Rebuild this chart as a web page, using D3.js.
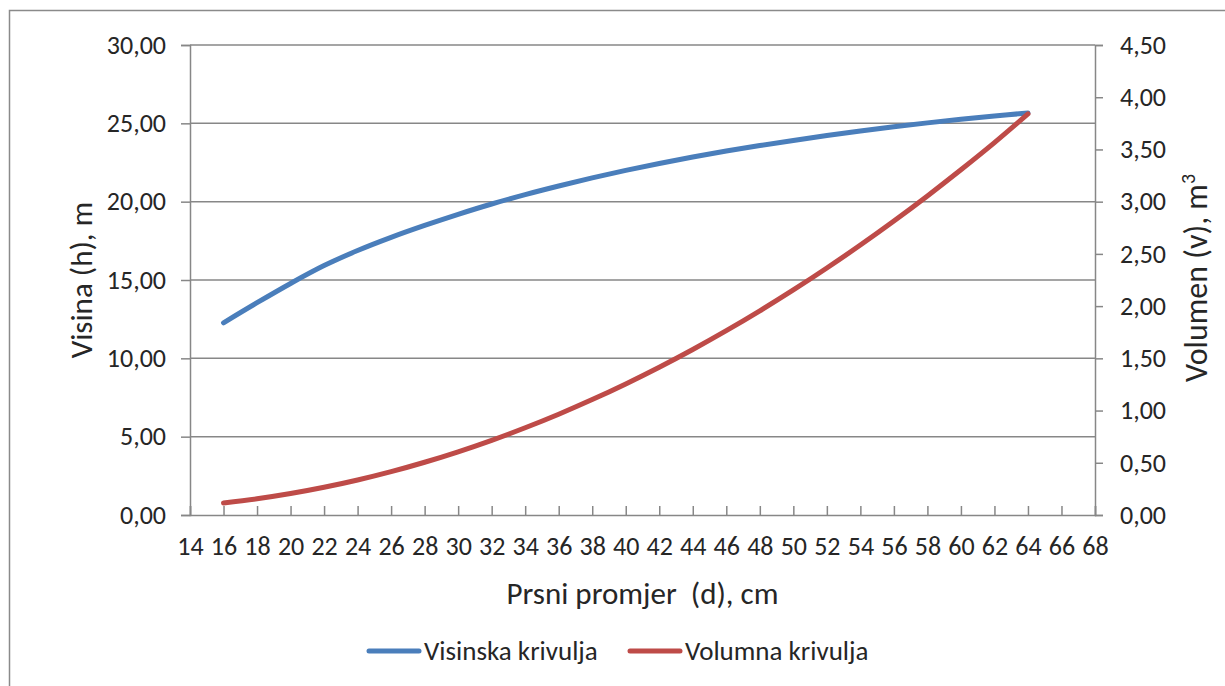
<!DOCTYPE html>
<html>
<head>
<meta charset="utf-8">
<script src="https://cdn.jsdelivr.net/npm/d3@7"></script>
<style>
  body { margin: 0; background: #fff; }
  svg text { font-family: Carlito, Calibri, Lato, sans-serif; fill: #262626; }
</style>
</head>
<body>
<div id="graph"></div>
<script>
// diameters (cm)
var diameters = [16, 18, 20, 22, 24, 26, 28, 30, 32, 34, 36, 38, 40, 42, 44, 46, 48, 50, 52, 54, 56, 58, 60, 62, 64];
// height curve (m)
var heights = [12.27, 13.55, 14.78, 15.92, 16.88, 17.72, 18.48, 19.19, 19.85, 20.45, 21.0, 21.52, 22.0, 22.44, 22.85, 23.23, 23.58, 23.91, 24.22, 24.51, 24.78, 25.03, 25.26, 25.47, 25.66];
// volume curve (m3)
var volumes = [0.115, 0.155, 0.205, 0.265, 0.335, 0.415, 0.505, 0.605, 0.715, 0.835, 0.965, 1.105, 1.255, 1.415, 1.585, 1.765, 1.955, 2.155, 2.365, 2.585, 2.815, 3.055, 3.305, 3.565, 3.84];

var xTicks = d3.range(14, 69, 2);
var leftTicks = [0, 5, 10, 15, 20, 25, 30];
var rightTicks = [0, 0.5, 1, 1.5, 2, 2.5, 3, 3.5, 4, 4.5];
var seriesNames = ["Visinska krivulja", "Volumna krivulja"];
var colors = ["#4a7ebb", "#be4b48"];

var width = 1225, height = 686;
var plotLeft = 190, plotRight = 1095, plotTop = 45, plotBottom = 515;

// comma as decimal separator
var locale = d3.formatLocale({ decimal: ",", thousands: ".", grouping: [3], currency: ["", ""] });
var fmt = locale.format(".2f");

var svg = d3.select("#graph")
  .append("svg")
  .attr("width", width)
  .attr("height", height);

// outer chart border
svg.append("rect")
  .attr("x", 9.5).attr("y", 10.5)
  .attr("width", 1240).attr("height", 700)
  .attr("fill", "none")
  .attr("stroke", "#8a8a8a")
  .attr("stroke-width", 1.5);

var x = d3.scaleLinear().domain([14, 68]).range([plotLeft, plotRight]);
var yL = d3.scaleLinear().domain([0, 30]).range([plotBottom, plotTop]);
var yR = d3.scaleLinear().domain([0, 4.5]).range([plotBottom, plotTop]);

var gridColor = "#878787";

// horizontal gridlines from the left axis
svg.append("g")
  .selectAll("line")
  .data(leftTicks.filter(function(d) { return d > 0; }))
  .enter()
  .append("line")
  .attr("x1", plotLeft).attr("x2", plotRight)
  .attr("y1", function(d) { return yL(d); })
  .attr("y2", function(d) { return yL(d); })
  .attr("stroke", gridColor)
  .attr("stroke-width", 1.5);

// left axis
var axL = svg.append("g")
  .attr("transform", "translate(" + plotLeft + ",0)")
  .call(d3.axisLeft(yL).tickValues(leftTicks).tickFormat(fmt).tickSize(9).tickPadding(15));

// right axis
var axR = svg.append("g")
  .attr("transform", "translate(" + plotRight + ",0)")
  .call(d3.axisRight(yR).tickValues(rightTicks).tickFormat(fmt).tickSize(8).tickPadding(17));

// bottom axis, ticks pointing inside
var axB = svg.append("g")
  .attr("transform", "translate(0," + plotBottom + ")")
  .call(d3.axisBottom(x).tickValues(xTicks).tickSize(-9).tickPadding(22));

[axL, axR, axB].forEach(function(ax) {
  ax.select(".domain").attr("stroke", gridColor).attr("stroke-width", 1.5);
  ax.selectAll(".tick line").attr("stroke", gridColor).attr("stroke-width", 1.5);
  ax.selectAll(".tick text")
    .style("font-size", "26px")
    .attr("fill", "#262626");
});
axB.selectAll(".tick text").attr("dy", "0.71em");

// smoothed lines like excel
var lineH = d3.line()
  .x(function(d, i) { return x(diameters[i]); })
  .y(function(d) { return yL(d); })
  .curve(d3.curveCatmullRom.alpha(0.5));
var lineV = d3.line()
  .x(function(d, i) { return x(diameters[i]); })
  .y(function(d) { return yR(d); })
  .curve(d3.curveCatmullRom.alpha(0.5));

svg.append("path")
  .datum(heights)
  .attr("d", lineH)
  .attr("fill", "none")
  .attr("stroke", colors[0])
  .attr("stroke-width", 5)
  .attr("stroke-linecap", "round");

svg.append("path")
  .datum(volumes)
  .attr("d", lineV)
  .attr("fill", "none")
  .attr("stroke", colors[1])
  .attr("stroke-width", 5)
  .attr("stroke-linecap", "round");

// axis titles
svg.append("text")
  .attr("transform", "translate(92," + (plotTop + plotBottom) / 2 + ") rotate(-90)")
  .attr("text-anchor", "middle")
  .style("font-size", "31px")
  .text("Visina (h), m");

var rt = svg.append("text")
  .attr("transform", "translate(1207," + ((plotTop + plotBottom) / 2 - 2) + ") rotate(-90)")
  .attr("text-anchor", "middle")
  .style("font-size", "32px");
rt.append("tspan").text("Volumen (v), m");
rt.append("tspan").attr("dy", -12).style("font-size", "20px").text("3");

svg.append("text")
  .attr("x", (plotLeft + plotRight) / 2)
  .attr("y", 604)
  .attr("text-anchor", "middle")
  .style("font-size", "31px")
  .style("white-space", "pre")
  .attr("xml:space", "preserve")
  .text("Prsni promjer  (d), cm");

// legend
var legendX = [367, 628];
var legend = svg.selectAll(".legend")
  .data(seriesNames)
  .enter()
  .append("g")
  .attr("class", "legend")
  .attr("transform", function(d, i) { return "translate(" + legendX[i] + ",651)"; });

legend.append("line")
  .attr("x1", 2).attr("x2", 52)
  .attr("stroke", function(d, i) { return colors[i]; })
  .attr("stroke-width", 5)
  .attr("stroke-linecap", "round");

legend.append("text")
  .attr("x", 57)
  .attr("y", 9)
  .style("font-size", "27px")
  .text(function(d) { return d; });
</script>
</body>
</html>
